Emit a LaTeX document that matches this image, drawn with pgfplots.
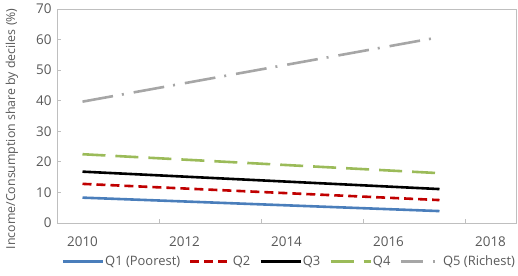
\documentclass[border=0pt]{standalone}
\usepackage{pgfplots}
\pgfplotsset{compat=1.18}
\usepackage{fontspec}
\setmainfont{Open Sans}
\definecolor{txt}{HTML}{595959}
\definecolor{axl}{HTML}{BFBFBF}
\definecolor{cQone}{HTML}{4A7EBB}
\definecolor{cQtwo}{HTML}{C00000}
\definecolor{cQfour}{HTML}{9BBB59}
\definecolor{cQfive}{HTML}{A6A6A6}
\begin{document}
\begin{tikzpicture}
\begin{axis}[
  name=ax,
  scale only axis, width=459bp, height=214bp,
  xmin=2009.5, xmax=2018.5, ymin=0, ymax=70,
  xtick={2010,2012,2014,2016,2018},
  xticklabels={2010,2012,2014,2016,2018},
  minor xtick={2011.5,2013.5,2015.5,2017.5},
  ytick={0,10,...,70},
  yticklabels={0,10,20,30,40,50,60,70},
  tick align=inside,
  xtick pos=bottom, ytick pos=left,
  major x tick style={draw=none},
  major tick length=4bp, minor tick length=4bp,
  tick style={axl, line width=0.75bp},
  axis line style={axl, line width=0.9bp},
  font=\fontsize{13.5}{16}\selectfont,
  tick label style={txt},
  xticklabel style={yshift=-10bp},
  yticklabel style={xshift=-2bp},
  ylabel={Income/Consumption share by deciles (\%)},
  ylabel style={txt, font=\fontsize{12.4}{14}\selectfont, at={(axis description cs:-0.098,0.44)}, anchor=center},
  legend style={at={(axis description cs:0.505,-0.135)}, anchor=north, draw=none, fill=none,
    legend columns=-1, text=txt, font=\fontsize{13}{15}\selectfont,
    nodes={inner xsep=1bp},
    /tikz/every odd column/.append style={column sep=0bp},
    /tikz/every even column/.append style={column sep=8bp}},
  legend image code/.code={\draw[#1] (0bp,0bp) -- (40bp,0bp);},
  legend cell align=left,
]
\addplot[cQone, line width=2.6bp, no marks] coordinates {(2010,8.3) (2017,3.9)};
\addlegendentry{Q1 (Poorest)}
\addplot[cQtwo, line width=2.6bp, no marks, dash pattern=on 9bp off 5bp] coordinates {(2010,12.8) (2017,7.5)};
\addlegendentry{Q2}
\addplot[black, line width=2.6bp, no marks] coordinates {(2010,16.8) (2017,11.1)};
\addlegendentry{Q3}
\addplot[cQfour, line width=2.6bp, no marks, dash pattern=on 23bp off 10bp] coordinates {(2010,22.5) (2017,16.3)};
\addlegendentry{Q4}
\addplot[cQfive, line width=2.6bp, no marks, dash pattern=on 31bp off 9bp on 2bp off 10bp,
  legend image post style={dash pattern=on 22bp off 10bp on 2bp off 10bp}] coordinates {(2010,39.7) (2017,60.8)};
\addlegendentry{Q5 (Richest)}
\end{axis}
\pgfresetboundingbox
\path ([xshift=-57bp,yshift=-52bp]ax.south west) rectangle ([xshift=2bp,yshift=9bp]ax.north east);
\end{tikzpicture}
\end{document}
